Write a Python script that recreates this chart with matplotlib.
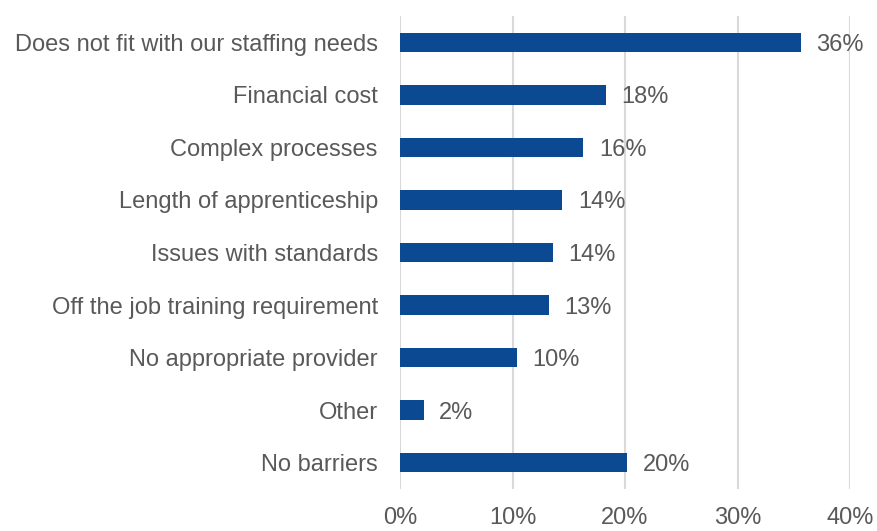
import matplotlib
matplotlib.use("Agg")
import matplotlib.pyplot as plt

categories = ["Does not fit with our staffing needs", "Financial cost", "Complex processes",
              "Length of apprenticeship", "Issues with standards", "Off the job training requirement",
              "No appropriate provider", "Other", "No barriers"]
values = [35.6, 18.3, 16.3, 14.4, 13.6, 13.2, 10.4, 2.1, 20.2]
value_labels = ["36%", "18%", "16%", "14%", "14%", "13%", "10%", "2%", "20%"]
xticks = [0, 10, 20, 30, 40]
xtick_labels = ["0%", "10%", "20%", "30%", "40%"]

plt.rcParams['font.family'] = ['Liberation Sans', 'DejaVu Sans']
text_color = "#595959"
bar_color = "#0b4a93"
fs = 17

fig = plt.figure(figsize=(8.77, 5.31), dpi=100)
ax = fig.add_axes([400/877, 1-489/531, 450/877, 473/531])

y = list(range(len(categories)))
ax.barh(y, values, height=0.37, color=bar_color, zorder=3)
for yi, v, lab in zip(y, values, value_labels):
    ax.text(v + 1.4, yi, lab, va='center_baseline', ha='left', fontsize=fs, color=text_color)

ax.set_ylim(len(categories) - 0.5, -0.5)
ax.set_xlim(0, 40)
ax.set_yticks(y)
ax.set_yticklabels(categories, fontsize=fs, color=text_color)
ax.set_xticks(xticks)
ax.set_xticklabels(xtick_labels, fontsize=fs, color=text_color)
ax.tick_params(axis='y', length=0, pad=16)
ax.tick_params(axis='x', length=0, pad=13)
ax.grid(axis='x', color="#d9d9d9", linewidth=1.5, zorder=0)
for s in ax.spines.values():
    s.set_visible(False)

fig.savefig("out.png", dpi=100)
